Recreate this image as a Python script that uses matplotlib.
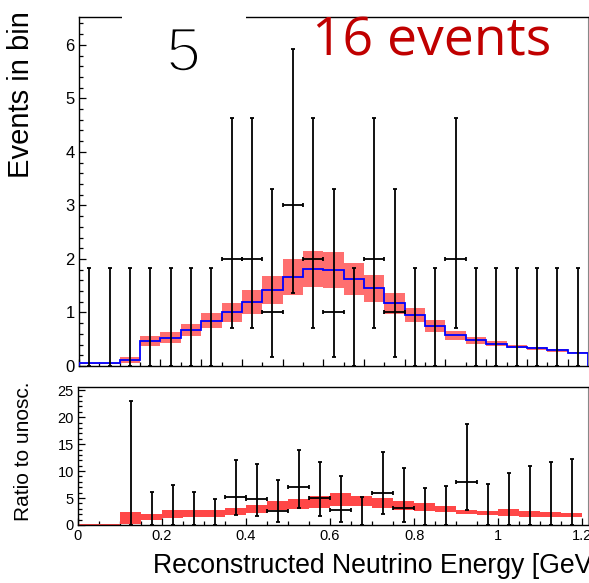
import numpy as np
import matplotlib
matplotlib.use("Agg")
import matplotlib.pyplot as plt
import matplotlib.patheffects as pe_
from matplotlib.patches import Rectangle

# binning: 25 bins of 0.05 GeV
bin_width = 0.05
bin_edges = np.round(np.arange(26) * bin_width, 3)
bin_centers = bin_edges[:-1] + bin_width / 2

# top panel: oscillated prediction and its uncertainty
pred = [0.05, 0.05, 0.11, 0.47, 0.53, 0.67, 0.85, 1.00, 1.20, 1.42, 1.66, 1.81, 1.79,
        1.63, 1.45, 1.17, 0.95, 0.75, 0.57, 0.48, 0.42, 0.36, 0.33, 0.29, 0.25]
pred_err = [0.01, 0.01, 0.05, 0.09, 0.10, 0.11, 0.14, 0.17, 0.22, 0.27, 0.33, 0.34, 0.34,
            0.30, 0.25, 0.19, 0.13, 0.11, 0.08, 0.06, 0.05, 0.03, 0.03, 0.03, 0.005]

# observed events with their confidence intervals
data = [0, 0, 0, 0, 0, 0, 0, 2, 2, 1, 3, 2, 1, 0, 2, 1, 0, 0, 2, 0, 0, 0, 0, 0, 0]
data_lo = [0, 0, 0, 0, 0, 0, 0, 0.71, 0.71, 0.17, 1.37, 0.71, 0.17, 0, 0.71, 0.17,
           0, 0, 0.71, 0, 0, 0, 0, 0, 0]
data_hi = [1.84, 1.84, 1.84, 1.84, 1.84, 1.84, 1.84, 4.64, 4.64, 3.30, 5.92, 4.64, 3.30,
           1.84, 4.64, 3.30, 1.84, 1.84, 4.64, 1.84, 1.84, 1.84, 1.84, 1.84, 1.84]

# bottom panel: ratio to unoscillated prediction
nan = np.nan
ratio_pred = [0, 0, 1.22, 1.43, 2.04, 2.20, 2.20, 2.50, 2.96, 3.57, 3.84, 4.27, 4.76,
              4.45, 4.10, 3.57, 3.30, 2.96, 2.35, 2.20, 2.30, 2.04, 1.98, 1.90, nan]
ratio_pred_err = [0.15, 0.15, 1.10, 0.52, 0.70, 0.67, 0.67, 0.67, 0.70, 0.82, 0.90, 1.10,
                  1.22, 0.90, 0.90, 0.82, 0.73, 0.52, 0.40, 0.37, 0.58, 0.52, 0.46, 0.37, nan]
ratio_data = [nan, nan, 0, 0, 0, 0, 0, 5.2, 4.9, 2.56, 7.0, 5.0, 2.74, 0, 5.9, 3.17,
              0, 0, 8.0, 0, 0, 0, 0, 0, nan]
ratio_lo = [nan, nan, 0, 0, 0, 0, 0, 1.83, 1.7, 0.5, 3.17, 1.7, 0.49, 0, 2.1, 0.6,
            0, 0, 2.7, 0, 0, 0, 0, 0, nan]
ratio_hi = [nan, nan, 23.0, 6.1, 7.4, 6.1, 4.9, 12.0, 11.4, 8.4, 13.9, 11.6, 9.0, 5.2,
            13.5, 10.5, 6.8, 7.3, 18.7, 7.6, 9.6, 11.0, 11.6, 12.2, nan]

plt.rcParams['font.family'] = ['Liberation Sans', 'DejaVu Sans']

W, H = 589, 583
fig = plt.figure(figsize=(W / 100, H / 100), dpi=100)


def px_axes(x0, y0, x1, y1):
    return fig.add_axes([x0 / W, 1 - y1 / H, (x1 - x0) / W, (y1 - y0) / H])


def style(ax, labelsize):
    ax.spines['right'].set_color('#888888')
    for s in ['left', 'bottom', 'top']:
        ax.spines[s].set_linewidth(1.0)
    ax.tick_params(which='both', direction='in', top=False, right=False,
                   labelsize=labelsize, width=0.9, pad=3)
    ax.tick_params(which='major', length=5)
    ax.tick_params(which='minor', length=2.8)


def draw_data(ax, y, lo, hi):
    y = np.asarray(y, float)
    lo = np.asarray(lo, float)
    hi = np.asarray(hi, float)
    yerr = np.vstack([y - lo, hi - y])
    nz = y > 0
    z = y == 0
    ax.errorbar(bin_centers[nz], y[nz], yerr=yerr[:, nz], xerr=bin_width / 2,
                fmt='none', ecolor='black', elinewidth=1.3, capsize=1.6, capthick=1.3,
                zorder=5)
    ax.errorbar(bin_centers[z], y[z], yerr=yerr[:, z], fmt='none', ecolor='black',
                elinewidth=1.3, capsize=1.6, capthick=1.3, zorder=5)


# ---- top panel ----
ax1 = px_axes(79, 17, 588, 366)
p = np.asarray(pred)
pe = np.asarray(pred_err)
ax1.bar(bin_edges[:-1], 2 * pe, bottom=p - pe, width=bin_width, align='edge',
        color='#ff6f6f', linewidth=0, zorder=2)
ax1.stairs(pred, bin_edges, color='#0000ff', linewidth=1.3, zorder=3)
draw_data(ax1, data, data_lo, data_hi)
ax1.set_xlim(0, 1.25)
ax1.set_ylim(0, 6.52)
ax1.set_yticks(range(7))
ax1.yaxis.set_minor_locator(plt.MultipleLocator(0.2))
ax1.xaxis.set_major_locator(plt.MultipleLocator(0.1))
ax1.xaxis.set_minor_locator(plt.MultipleLocator(0.05))
ax1.tick_params(axis='x', labelbottom=False)
style(ax1, 12)

# ---- bottom panel ----
ax2 = px_axes(78, 387, 588, 525)
rp = np.asarray(ratio_pred, float)
rpe = np.asarray(ratio_pred_err, float)
ax2.bar(bin_edges[:-1], 2 * rpe, bottom=rp - rpe, width=bin_width, align='edge',
        color='#ff4747', linewidth=0, zorder=2)
draw_data(ax2, ratio_data, ratio_lo, ratio_hi)
ax2.set_xlim(0, 1.214)
ax2.set_ylim(0, 25.6)
ax2.set_yticks([0, 5, 10, 15, 20, 25])
ax2.yaxis.set_minor_locator(plt.MultipleLocator(1))
ax2.set_xticks([0, 0.2, 0.4, 0.6, 0.8, 1.0, 1.2])
ax2.set_xticklabels(['0', '0.2', '0.4', '0.6', '0.8', '1', '1.2'])
ax2.xaxis.set_minor_locator(plt.MultipleLocator(0.05))
style(ax2, 10.5)

# white box hiding part of the top frame behind the "5"
fig.patches.append(Rectangle((121.5 / W, 1 - 24 / H), 124 / W, 14 / H,
                             transform=fig.transFigure, facecolor='white',
                             edgecolor='none', zorder=10))

# labels
fig.text(21 / W, 1 - 95 / H, 'Events in bin', rotation=90, ha='center', va='center',
         fontsize=21)
fig.text(24 / W, 1 - 451 / H, 'Ratio to unosc.', rotation=90, ha='center', va='center',
         fontsize=15)
fig.text(153 / W, 1 - 573 / H, 'Reconstructed Neutrino Energy [GeV]', ha='left',
         va='baseline', fontsize=19.2)

# thin "5": regular glyph with a white outline eating into the strokes
fig.text(183.7 / W, 1 - 71 / H, '5', ha='center', va='baseline', fontsize=45,
         color='black', zorder=11,
         path_effects=[pe_.Stroke(linewidth=2.0, foreground='white')])
fig.text(312 / W, 1 - 55 / H, '16 events', ha='left', va='baseline', fontsize=38.5,
         family=['Open Sans', 'DejaVu Sans'], color='#c00000', zorder=11)

fig.savefig('out.png', dpi=100)
